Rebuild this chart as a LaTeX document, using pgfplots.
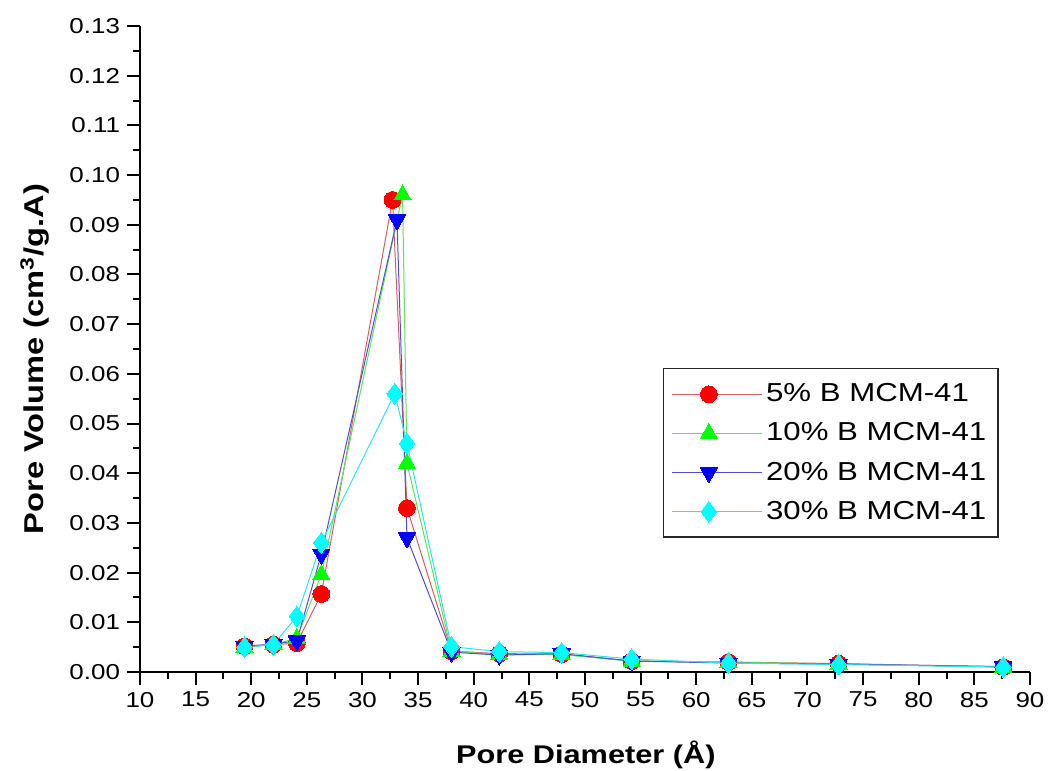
\documentclass[border=0pt]{standalone}
\usepackage{fontspec}
\setmainfont{Liberation Sans}[FakeStretch=1.2]
\usepackage{pgfplots}
\pgfplotsset{compat=1.18}
\definecolor{lred}{RGB}{215,95,95}
\definecolor{lgreen}{RGB}{95,225,95}
\definecolor{lblue}{RGB}{80,80,205}
\definecolor{lcyan}{RGB}{40,230,230}
\definecolor{mred}{RGB}{255,0,0}
\definecolor{mgreen}{RGB}{0,255,0}
\definecolor{mblue}{RGB}{0,0,255}
\definecolor{mcyan}{RGB}{0,255,255}
\begin{document}
\begin{tikzpicture}
\begin{axis}[
  scale only axis, width=445pt, height=323pt,
  xmin=10, xmax=90, ymin=0, ymax=0.13,
  axis x line*=bottom, axis y line*=left,
  axis line style={line width=1pt},
  xtick={10,15,...,90}, minor x tick num=1,
  ytick={0,0.01,...,0.13}, minor y tick num=1,
  tick align=outside,
  major tick length=6.5pt, minor tick length=3.5pt,
  every tick/.style={black, line width=1pt},
  tick label style={font=\fontsize{10.8}{12}\selectfont},
  /pgf/number format/assume math mode=true,
  yticklabel style={/pgf/number format/.cd, fixed, fixed zerofill, precision=2},
  scaled y ticks=false,
  xlabel={Pore Diameter (Å)},
  ylabel={Pore Volume (cm\textsuperscript{3}/g.A)},
  xlabel style={font=\fontsize{12.8}{15}\selectfont\bfseries, at={(axis description cs:0.501,-0.1409)}, anchor=base},
  ylabel style={font=\fontsize{13.6}{15}\selectfont\bfseries, at={(axis description cs:-0.118,0.4845)}, anchor=center},
  legend style={at={(axis cs:57,0.0612)}, anchor=north west, draw=black!85, line width=0.8pt,
    font=\fontsize{13}{15}\selectfont, row sep=5pt, inner xsep=4pt, inner ysep=5.5pt,
    legend cell align=left},
  legend image code/.code={\path (0cm,0cm) -- (1.29cm+8pt,0cm); \draw[mark=none] (0cm,0cm) -- (1.29cm,0cm); \draw plot coordinates {(0.645cm,0cm)};},
  clip=false,
]
\addplot[lred, line width=0.5pt, mark=*, mark size=4.2pt, mark options={fill=mred, draw=mred, line width=0pt}] coordinates {
(19.4,0.0052) (22.0,0.0055) (24.1,0.0058) (26.3,0.0157) (32.7,0.095) (34.0,0.033) (38.0,0.0042) (42.3,0.0037) (47.9,0.0036) (54.2,0.0022) (62.9,0.0020) (72.8,0.0017) (87.6,0.0010)};
\addlegendentry{5\% B MCM-41}
\addplot[lgreen, line width=0.5pt, mark=triangle*, mark size=5pt, mark options={fill=mgreen, draw=mgreen, line width=0pt}] coordinates {
(19.4,0.0050) (22.0,0.0055) (24.1,0.0068) (26.3,0.0196) (33.6,0.096) (34.0,0.042) (38.0,0.0042) (42.3,0.0035) (47.9,0.0035) (54.2,0.0022) (62.9,0.0020) (72.8,0.0016) (87.6,0.0010)};
\addlegendentry{10\% B MCM-41}
\addplot[lblue, line width=0.5pt, mark=triangle*, mark size=5pt, mark options={fill=mblue, draw=mblue, line width=0pt, rotate=180}] coordinates {
(19.4,0.0052) (22.0,0.0056) (24.1,0.0063) (26.3,0.0237) (33.1,0.091) (34.0,0.027) (38.0,0.0040) (42.3,0.0034) (47.9,0.0037) (54.2,0.0022) (62.9,0.0018) (72.8,0.0016) (87.6,0.0011)};
\addlegendentry{20\% B MCM-41}
\addplot[lcyan, line width=0.5pt, mark=diamond*, mark size=5.2pt, mark options={fill=mcyan, draw=mcyan, line width=0pt}] coordinates {
(19.4,0.0050) (22.0,0.0055) (24.1,0.0112) (26.3,0.026) (32.9,0.056) (34.0,0.046) (38.0,0.0051) (42.3,0.0041) (47.9,0.0039) (54.2,0.0026) (62.9,0.0018) (72.8,0.0015) (87.6,0.0010)};
\addlegendentry{30\% B MCM-41}
\end{axis}
\pgfresetboundingbox
\path (-70pt,-49.5pt) rectangle (455.5pt,336pt);
\end{tikzpicture}
\end{document}
